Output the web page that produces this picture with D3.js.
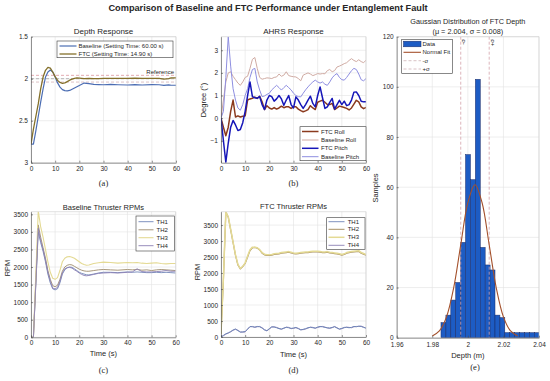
<!DOCTYPE html>
<html>
<head>
<meta charset="utf-8">
<script src="https://cdn.jsdelivr.net/npm/d3@7"></script>
<style>
  body { margin: 0; background: #fff; }
  text { font-family: "Liberation Sans", Arial, sans-serif; fill: #262626; }
  text.tag { font-family: "Liberation Serif", "Times New Roman", serif; }
</style>
</head>
<body>
<svg width="550" height="381"></svg>
<script>
// ---------- data ----------
// (a) depth response
const depthTime = [0,1,2,3,4,5,6,7,8,9,10,11,12,13,14,15,16,17,18,19,20,22,24,26,28,30,33,36,40,43,46,50,53,55,57,58,60];
const depthBaseline = [2.78,2.78,2.62,2.45,2.28,2.12,1.98,1.92,1.897,1.92,1.98,2.05,2.1,2.13,2.142,2.145,2.14,2.125,2.11,2.095,2.08,
  2.052,2.058,2.068,2.07,2.072,2.068,2.072,2.075,2.07,2.075,2.07,2.072,2.08,2.074,2.078,2.078];
const depthFTC = [2.78,2.6,2.45,2.3,2.12,1.98,1.9,1.865,1.875,1.92,1.975,2.02,2.045,2.055,2.05,2.035,2.018,2.005,1.995,1.99,1.993,
  1.998,1.995,2.0,1.998,1.995,1.997,1.996,1.995,1.993,1.997,1.996,1.995,2.004,2.0,1.99,1.99];
const refLevels = [1.96, 2.0, 2.04];

// (b) AHRS response, one sample per second
const ahrsTime = d3.range(0, 61);
const ftcRoll = [0,-0.4,-0.78,-0.4,0.3,0.8,0.05,0.1,0.05,0.08, 0.1,0.8,0.85,0.88,0.93,0.87,0.97,0.72,0.38,0.55,
  0.45,0.4,0.47,0.4,0.45,0.53,0.46,0.5,0.5,0.43, 0.5,0.5,0.4,0.33,0.28,0.32,0.38,0.55,0.45,0.38,
  0.7,0.75,0.79,0.7,0.6,0.6,0.65,0.38,0.45,0.53, 0.5,0.47,0.43,0.36,0.45,0.62,0.79,0.72,0.5,0.42,0.47];
const baseRoll = [0,0.8,1.6,2.0,2.05,1.85,1.7,1.55,1.45,1.6, 1.8,1.85,2.2,2.6,2.68,2.2,1.8,1.72,1.75,1.78,
  1.77,1.75,1.8,1.82,1.95,1.85,1.9,2.05,1.88,1.85, 1.83,1.82,1.75,1.65,1.9,1.95,2.0,1.95,1.88,1.92,
  1.97,1.95,1.97,1.96,2.1,2.15,2.05,2.1,2.26,2.3, 2.35,2.41,2.45,2.55,2.63,2.55,2.5,2.58,2.5,2.45,2.56];
const ftcPitch = [0,-1.0,-1.95,-1.1,-0.4,-0.1,-0.3,-0.55,-0.5,-0.2, 0.3,1.0,1.6,0.95,0.9,0.88,0.95,0.6,0.38,0.8,
  1.0,0.95,0.75,0.85,1.0,0.85,0.57,0.8,1.0,0.6, 0.45,0.94,0.8,0.6,0.43,0.6,0.8,0.97,0.65,0.5,
  1.0,1.38,0.9,0.43,0.5,0.7,0.87,0.4,0.6,0.79, 0.6,0.75,0.55,0.6,0.8,1.15,1.16,1.0,0.75,0.72,0.72];
const basePitch = [0,0.3,1.8,3.6,2.3,1.3,0.8,0.45,0.35,0.6, 1.0,1.3,1.8,2.15,2.2,1.6,1.24,0.95,0.98,1.05,
  1.1,1.25,1.35,1.45,1.35,1.24,1.35,1.45,1.35,1.25, 1.1,1.0,0.95,0.94,1.1,1.25,1.38,1.5,1.6,1.68,
  1.6,1.55,1.6,1.5,1.45,1.6,1.78,1.9,1.97,1.8, 1.7,1.68,1.8,1.95,2.1,2.2,2.15,1.95,1.7,1.65,1.75];

// (c) baseline thruster RPMs
const baseThrTime = [0,1,3,4,5,6,7,8,9,10,11,12,13,14,15,16,17,18,19,20,21,22,23,24,26,28,30,33,36,40,42,44,46,48,50,52,54,56,58,60];
const baseTH1 = [0,0,3000,2700,2450,2150,1800,1550,1380,1350, 1380,1550,1800,1920,1980,2000,1990,1950,1900,1850,
  1820,1800,1780,1775,1800,1830,1850,1850,1840,1860, 1850,1860,1850,1840,1840,1850,1840,1850,1840,1830];
const baseTH2 = [0,0,3200,2850,2550,2250,1900,1650,1470,1440, 1480,1650,1880,2000,2050,2070,2060,2020,1980,1940,
  1910,1890,1880,1880,1900,1920,1930,1920,1910,1930, 1920,1930,1910,1920,1900,1920,1930,1920,1910,1900];
const baseTH3 = [0,0,3600,3150,2850,2500,2150,1850,1680,1650, 1700,1900,2150,2250,2290,2300,2280,2250,2200,2150,
  2100,2070,2050,2060,2100,2120,2140,2130,2110,2130, 2120,2130,2110,2100,2110,2120,2100,2090,2100,2100];
const baseTH4 = [0,0,3100,2750,2500,2200,1850,1600,1400,1380, 1420,1600,1830,1950,1980,1990,1970,1920,1880,1830,
  1790,1760,1750,1760,1790,1820,1830,1840,1830,1850, 1860,1950,1870,1860,1860,1870,1880,1900,1880,1880];

// (d) FTC thruster RPMs, one sample per second
const ftcThrTime = d3.range(0, 61);
const ftcTH1 = [0,50,100,130,170,220,250,200,150,160, 170,250,330,320,310,330,320,280,220,200,
  260,320,310,290,260,250,280,300,290,270, 280,300,260,220,240,260,290,300,290,280,
  310,330,320,300,290,280,300,320,280,250, 270,300,300,290,300,330,320,340,330,300,280];
const ftcTH2 = [100,1800,3900,3750,3350,2950,2550,2250,2130,2200, 2300,2500,2700,2790,2800,2780,2720,2620,2570,2550,
  2550,2560,2580,2590,2600,2620,2630,2640,2650,2630, 2610,2600,2610,2620,2630,2640,2640,2650,2660,2660,
  2660,2650,2640,2640,2650,2630,2620,2610,2600,2580, 2560,2580,2620,2640,2650,2660,2670,2680,2620,2590,2560];
const ftcTH3 = [100,1850,3910,3760,3370,2970,2570,2270,2140,2210, 2320,2530,2730,2810,2810,2790,2730,2640,2590,2570,
  2570,2580,2600,2610,2620,2640,2650,2660,2670,2650, 2630,2620,2630,2640,2650,2660,2660,2670,2680,2680,
  2680,2670,2660,2660,2670,2650,2640,2630,2620,2600, 2580,2600,2640,2660,2670,2680,2690,2700,2640,2610,2580];
const ftcTH4 = [0,40,90,120,160,210,240,210,160,150, 160,240,320,330,300,320,330,290,230,190,
  250,310,320,300,270,240,270,310,300,260, 270,290,270,230,230,250,280,310,300,270,
  300,320,330,310,280,270,290,330,290,240, 260,290,310,300,290,320,330,330,340,310,270];

// (e) histogram of FTC depth
const histEdges = [1.9849,1.98766,1.99042,1.99318,1.99594,1.9987,2.00146,2.00422,2.00698,2.00974,2.0125,
  2.01526,2.01802,2.02078,2.02354,2.0263,2.02906,2.03182,2.03458,2.03734,2.0401];
const histCounts = [6,9,15,22,38,73,63,103,36,29,27,9,8,2,2,2,2,2,2,2];
const fitDepth = [1.980,1.984,1.988,1.992,1.996,2.000,2.004,2.008,2.012,2.016,2.020,2.024,2.028];
const fitCount = [0.7,2.7,8.3,19.8,37,53.8,61,53.8,37,19.8,8.3,2.7,0.7];
const sigmaLines = [1.996, 2.012];
const sigmaLabels = ["-σ", "+σ"];

const timeTicks = [0,10,20,30,40,50,60];

// ---------- drawing ----------
const svg = d3.select("svg");
let clipCount = 0;

function makeAxes(o) {
  const g = svg.append("g").attr("transform", `translate(${o.left},${o.top})`);
  const x = d3.scaleLinear().domain(o.xDomain).range([0, o.width]);
  const y = d3.scaleLinear().domain(o.yDomain).range(o.yReverse ? [0, o.height] : [o.height, 0]);

  g.append("g").selectAll("line").data(o.xTicks).join("line")
    .attr("x1", d => x(d)).attr("x2", d => x(d)).attr("y1", 0).attr("y2", o.height)
    .attr("stroke", "#e2e2e2").attr("stroke-width", 0.6);
  g.append("g").selectAll("line").data(o.yTicks).join("line")
    .attr("x1", 0).attr("x2", o.width).attr("y1", d => y(d)).attr("y2", d => y(d))
    .attr("stroke", "#e2e2e2").attr("stroke-width", 0.6);

  const id = "clip" + (clipCount++);
  g.append("clipPath").attr("id", id).append("rect").attr("width", o.width).attr("height", o.height);
  const plot = g.append("g").attr("clip-path", `url(#${id})`);

  g.append("path").attr("d", `M0,0H${o.width}V${o.height}`)
    .attr("fill", "none").attr("stroke", "#cfcfcf").attr("stroke-width", 0.6);

  const xa = g.append("g").attr("transform", `translate(0,${o.height})`)
    .call(d3.axisBottom(x).tickValues(o.xTicks).tickSizeInner(-2).tickSizeOuter(0)
      .tickPadding(o.xPad || 3.5).tickFormat(d3.format("")));
  const ya = g.append("g")
    .call(d3.axisLeft(y).tickValues(o.yTicks).tickSizeInner(-2).tickSizeOuter(0)
      .tickPadding(3).tickFormat(d3.format("")));
  [xa, ya].forEach(a => {
    a.select(".domain").attr("stroke", "#4a4a4a").attr("stroke-width", 0.6);
    a.selectAll(".tick line").attr("stroke", "#4a4a4a").attr("stroke-width", 0.6);
    a.selectAll(".tick text").attr("font-size", 6.5).attr("fill", "#262626");
  });

  if (o.title) {
    [].concat(o.title).forEach((t, i) => {
      svg.append("text").attr("x", o.left + o.width / 2).attr("y", o.titleY + i * 10)
        .attr("text-anchor", "middle").attr("font-size", o.titleSize || 8).text(t);
    });
  }
  if (o.xlabel) {
    svg.append("text").attr("x", o.left + o.width / 2).attr("y", o.xlabelY)
      .attr("text-anchor", "middle").attr("font-size", 7.5).text(o.xlabel);
  }
  if (o.ylabel) {
    svg.append("text").attr("transform", `translate(${o.ylabelX},${o.ylabelYc}) rotate(-90)`)
      .attr("text-anchor", "middle").attr("dy", "0.35em").attr("font-size", 7.5).text(o.ylabel);
  }
  svg.append("text").attr("class", "tag").attr("x", o.tagX || (o.left + o.width / 2)).attr("y", o.tagY)
    .attr("text-anchor", "middle").attr("font-size", 8.5).text(o.tag);
  return { g, plot, x, y };
}

function drawLine(ax, xs, ys, color, width, dash) {
  ax.plot.append("path")
    .datum(ys.map((v, i) => [xs[i], v]))
    .attr("fill", "none").attr("stroke", color).attr("stroke-width", width)
    .attr("stroke-linejoin", "round")
    .attr("stroke-dasharray", dash || null)
    .attr("d", d3.line().x(d => ax.x(d[0])).y(d => ax.y(d[1])));
}

function legend(b, rows) {
  svg.append("rect").attr("x", b.x).attr("y", b.y).attr("width", b.w).attr("height", b.h)
    .attr("fill", "#fff").attr("stroke", "#3a3a3a").attr("stroke-width", 0.6);
  rows.forEach((r, i) => {
    const yy = b.rowY[i];
    if (r.patch) {
      svg.append("rect").attr("x", b.x1).attr("y", yy - 2.8).attr("width", b.x2 - b.x1).attr("height", 5.6)
        .attr("fill", r.color).attr("stroke", r.edge).attr("stroke-width", 0.5);
    } else {
      svg.append("line").attr("x1", b.x1).attr("x2", b.x2).attr("y1", yy).attr("y2", yy)
        .attr("stroke", r.color).attr("stroke-width", r.width).attr("stroke-dasharray", r.dash || null);
    }
    svg.append("text").attr("x", b.tx).attr("y", yy).attr("dy", "0.35em")
      .attr("font-size", 6).text(r.label);
  });
}

// main title
svg.append("text").attr("x", 268).attr("y", 10.5).attr("text-anchor", "middle")
  .attr("font-size", 9.2).attr("font-weight", "bold").attr("fill", "#111")
  .text("Comparison of Baseline and FTC Performance under Entanglement Fault");

// colours
const cBase = "#4b6db3", cFTC = "#84702a";
const cFtcRoll = "#8b3a1e", cBaseRoll = "#cfaaa2", cFtcPitch = "#1616b8", cBasePitch = "#8e8ee0";
const cTH1 = "#7086b8", cTH2 = "#9d8b6c", cTH3 = "#e4da94", cTH4 = "#8c80b4";
const cFtcTH2 = "#a89064";

// (a) Depth Response
const axA = makeAxes({ left: 31, top: 36.7, width: 145, height: 126, xDomain: [0, 60], yDomain: [1.5, 3],
  yReverse: true, xTicks: timeTicks, yTicks: [1.5, 2, 2.5, 3], title: "Depth Response", titleY: 34,
  tag: "(a)", tagY: 186 });
const refColors = ["#d98890", "#9c9c9c", "#cfa9ae"];
refLevels.forEach((lv, i) => {
  axA.plot.append("line").attr("x1", 0).attr("x2", 145).attr("y1", axA.y(lv)).attr("y2", axA.y(lv))
    .attr("stroke", refColors[i]).attr("stroke-width", 0.7).attr("stroke-dasharray", "3,2");
});
svg.append("text").attr("x", 174).attr("y", 74.2).attr("text-anchor", "end")
  .attr("font-size", 6).attr("fill", "#6e4848").text("Reference");
drawLine(axA, depthTime, depthBaseline, cBase, 1.2);
drawLine(axA, depthTime, depthFTC, cFTC, 1.3);
legend({ x: 57, y: 41, w: 116, h: 16.7, x1: 59.5, x2: 76.5, tx: 78.5, rowY: [46, 54] }, [
  { label: "Baseline (Setting Time: 60.00 s)", color: cBase, width: 1.2 },
  { label: "FTC (Setting Time: 14.90 s)", color: cFTC, width: 1.3 }
]);

// (b) AHRS Response
const axB = makeAxes({ left: 221, top: 36.7, width: 145, height: 126, xDomain: [0, 60], yDomain: [-1.97, 3.6],
  xTicks: timeTicks, yTicks: [-1, 0, 1, 2, 3], title: "AHRS Response", titleY: 34,
  ylabel: "Degree (°)", ylabelX: 203.3, ylabelYc: 100, tag: "(b)", tagY: 186 });
drawLine(axB, ahrsTime, baseRoll, cBaseRoll, 1.0);
drawLine(axB, ahrsTime, basePitch, cBasePitch, 1.0);
drawLine(axB, ahrsTime, ftcRoll, cFtcRoll, 1.5);
drawLine(axB, ahrsTime, ftcPitch, cFtcPitch, 1.5);
legend({ x: 300, y: 126.7, w: 66, h: 34, x1: 302, x2: 318.5, tx: 321, rowY: [131.5, 140, 148.3, 156.7] }, [
  { label: "FTC Roll", color: cFtcRoll, width: 1.5 },
  { label: "Baseline Roll", color: cBaseRoll, width: 1.0 },
  { label: "FTC Pitch", color: cFtcPitch, width: 1.5 },
  { label: "Baseline Pitch", color: cBasePitch, width: 1.0 }
]);

// (c) Baseline Thruster RPMs
const rpmTicks = [0, 500, 1000, 1500, 2000, 2500, 3000, 3500];
const axC = makeAxes({ left: 31, top: 211.7, width: 144.7, height: 125.6, xDomain: [0, 60], yDomain: [0, 3575],
  xTicks: timeTicks, yTicks: rpmTicks, title: "Baseline Thruster RPMs", titleY: 209.5, titleSize: 7.5,
  xlabel: "Time (s)", xlabelY: 356, ylabel: "RPM", ylabelX: 7, ylabelYc: 268, tag: "(c)", tagY: 373 });
drawLine(axC, baseThrTime, baseTH1, cTH1, 0.9);
drawLine(axC, baseThrTime, baseTH2, cTH2, 0.9);
drawLine(axC, baseThrTime, baseTH3, cTH3, 1.1);
drawLine(axC, baseThrTime, baseTH4, cTH4, 0.9);
legend({ x: 136, y: 216, w: 38.3, h: 35, x1: 138.5, x2: 153.5, tx: 156.5, rowY: [221.7, 229.8, 237.7, 245.7] }, [
  { label: "TH1", color: cTH1, width: 0.9 },
  { label: "TH2", color: cTH2, width: 0.9 },
  { label: "TH3", color: cTH3, width: 1.1 },
  { label: "TH4", color: cTH4, width: 0.9 }
]);

// (d) FTC Thruster RPMs
const axD = makeAxes({ left: 221, top: 211.7, width: 145, height: 125.3, xDomain: [0, 60], yDomain: [0, 3918],
  xTicks: timeTicks, yTicks: rpmTicks, title: "FTC Thruster RPMs", titleY: 209, titleSize: 7.5,
  xlabel: "Time (s)", xlabelY: 356.5, ylabel: "RPM", ylabelX: 197.3, ylabelYc: 272, tag: "(d)", tagY: 373 });
drawLine(axD, ftcThrTime, ftcTH2, cFtcTH2, 1.2);
drawLine(axD, ftcThrTime, ftcTH3, cTH3, 1.5);
drawLine(axD, ftcThrTime, ftcTH4, cTH4, 0.9);
drawLine(axD, ftcThrTime, ftcTH1, cTH1, 1.0);
legend({ x: 326.7, y: 217.7, w: 38.3, h: 31.6, x1: 328.5, x2: 344.5, tx: 347.7, rowY: [221.7, 229.3, 237.3, 245.3] }, [
  { label: "TH1", color: cTH1, width: 0.9 },
  { label: "TH2", color: cFtcTH2, width: 1.0 },
  { label: "TH3", color: cTH3, width: 1.5 },
  { label: "TH4", color: cTH4, width: 0.9 }
]);

// (e) Gaussian distribution of FTC depth
const axE = makeAxes({ left: 396.7, top: 36.7, width: 142.3, height: 301, xDomain: [1.96, 2.04], yDomain: [0, 120],
  xTicks: [1.96, 1.98, 2, 2.02, 2.04], yTicks: [0, 20, 40, 60, 80, 100, 120], xPad: 5,
  title: ["Gaussian Distribution of FTC Depth", "(μ = 2.004, σ = 0.008)"], titleY: 23.5, titleSize: 7.3,
  xlabel: "Depth (m)", xlabelY: 358, ylabel: "Samples", ylabelX: 375, ylabelYc: 188, tag: "(e)", tagX: 475, tagY: 370 });
const cBar = "#1d5cc4", cBarEdge = "#1a2b66", cFit = "#a4512c", cSigma = "#d4a2aa";
axE.plot.selectAll("rect.bar").data(histCounts).join("rect").attr("class", "bar")
  .attr("x", (d, i) => axE.x(histEdges[i]))
  .attr("width", (d, i) => axE.x(histEdges[i + 1]) - axE.x(histEdges[i]))
  .attr("y", d => axE.y(d)).attr("height", d => axE.y(0) - axE.y(d))
  .attr("fill", cBar).attr("stroke", cBarEdge).attr("stroke-width", 0.5);
sigmaLines.forEach((s, i) => {
  axE.plot.append("line").attr("x1", axE.x(s)).attr("x2", axE.x(s)).attr("y1", 0).attr("y2", 301)
    .attr("stroke", cSigma).attr("stroke-width", 0.8).attr("stroke-dasharray", "3,2");
  svg.append("text").attr("transform", `translate(${396.7 + axE.x(s) + 4.5},${39}) rotate(-90)`)
    .attr("text-anchor", "end").attr("font-size", 6).attr("fill", "#a05a5a").text(sigmaLabels[i]);
});
axE.plot.append("path").datum(fitDepth.map((v, i) => [v, fitCount[i]]))
  .attr("fill", "none").attr("stroke", cFit).attr("stroke-width", 1.1)
  .attr("d", d3.line().curve(d3.curveCatmullRom).x(d => axE.x(d[0])).y(d => axE.y(d[1])));
legend({ x: 401.7, y: 39.3, w: 50.6, h: 34, x1: 403.5, x2: 421, tx: 422.5, rowY: [44, 52.3, 60.7, 69] }, [
  { label: "Data", patch: true, color: cBar, edge: cBarEdge },
  { label: "Normal Fit", color: cFit, width: 1.1 },
  { label: "-σ", color: "#c9a8ac", width: 0.7, dash: "3,2" },
  { label: "+σ", color: "#c9a8ac", width: 0.7, dash: "3,2" }
]);
</script>
</body>
</html>
